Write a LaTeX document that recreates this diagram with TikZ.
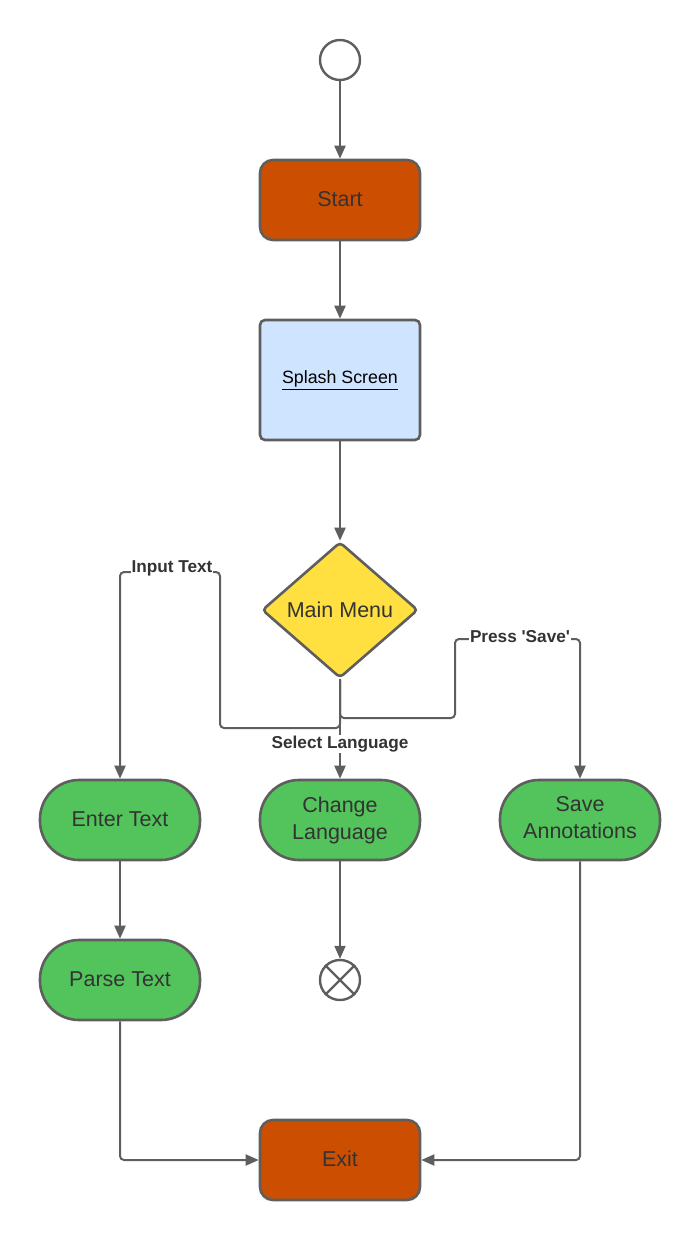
\documentclass[tikz,border=0pt]{standalone}
\usepackage{fontspec}
\setmainfont{Liberation Sans}
\usetikzlibrary{shapes.geometric,arrows.meta}
\definecolor{lgray}{HTML}{5E5E5E}
\definecolor{txt}{HTML}{333333}
\definecolor{orng}{HTML}{CC4E00}
\definecolor{lblue}{HTML}{CFE4FF}
\definecolor{ylw}{HTML}{FFE040}
\definecolor{grn}{HTML}{53C45B}
\tikzset{
  box/.style={draw=lgray, line width=2.6pt, minimum width=160pt, minimum height=80pt, inner sep=0pt, text=txt, font=\fontsize{21.5}{27}\selectfont, align=center},
  orangebox/.style={box, fill=orng, rounded corners=13pt},
  greenbox/.style={box, fill=grn, rounded corners=39pt},
  conn/.style={draw=lgray, line width=2pt, rounded corners=4pt, -{Triangle[length=13pt,width=11pt]}},
  lbl/.style={fill=white, inner sep=1pt, text=txt, font=\fontsize{17.2}{18}\selectfont\bfseries},
}
\begin{document}
\begin{tikzpicture}[x=1pt,y=-1pt]
\useasboundingbox (0,0) rectangle (700,1240);
% nodes
\node[circle, draw=lgray, line width=2.4pt, fill=white, minimum size=40pt, inner sep=0pt] (init) at (340,60) {};
\node[orangebox] (start) at (340,200) {\raisebox{2pt}{Start}};
\node[box, fill=lblue, rounded corners=5pt, minimum height=120pt, text=black, font=\fontsize{17.8}{20}\selectfont] (splash) at (340,380) {\underline{Splash Screen}};
\node[diamond, draw=lgray, line width=2.6pt, fill=ylw, minimum width=156pt, minimum height=136pt, inner sep=0pt, rounded corners=4pt, text=txt, font=\fontsize{21.5}{24}\selectfont] (mm) at (340,610) {\raisebox{1pt}{Main Menu}};
\node[greenbox] (et) at (120,820) {\raisebox{2pt}{Enter Text}};
\node[greenbox] (cl) at (340,820) {Change\\Language};
\node[greenbox] (sa) at (580,820) {Save\\Annotations\vphantom{g}};
\node[greenbox] (pt) at (120,980) {\raisebox{2pt}{Parse Text}};
\node[circle, draw=lgray, line width=2.4pt, fill=white, minimum size=40pt, inner sep=0pt] (fin) at (340,980) {};
\draw[lgray, line width=2.4pt] (fin.45) -- (fin.225) (fin.135) -- (fin.315);
\node[orangebox] (exit) at (340,1160) {\raisebox{2pt}{Exit}};
% coordinates
\coordinate (a1) at (220,728);
\coordinate (a2) at (220,572);
\coordinate (b1) at (455,718);
\coordinate (b2) at (455,639);
\coordinate (c1) at (120,1160);
\coordinate (d1) at (580,1160);
% connectors
\draw[conn] (init) -- (start);
\draw[conn] (start) -- (splash);
\draw[conn] (splash) -- (mm.north);
\draw[conn] (mm.south) |- (a1) -- (a2) -| (et.north);
\draw[conn] (mm.south) |- (b1) -- (b2) -| (sa.north);
\draw[conn] (mm.south) -- (cl.north);
\draw[conn] (et) -- (pt);
\draw[conn] (cl) -- (fin);
\draw[conn] (pt.south) -- (c1) -- (exit.west);
\draw[conn] (sa.south) -- (d1) -- (exit.east);
% labels
\node[lbl] (l1) at (172,568) {Input Text};
\node[lbl] (l2) at (340,744) {Select Language};
\node[lbl] (l3) at (520,637) {Press \textquotesingle Save\textquotesingle};
\end{tikzpicture}
\end{document}
